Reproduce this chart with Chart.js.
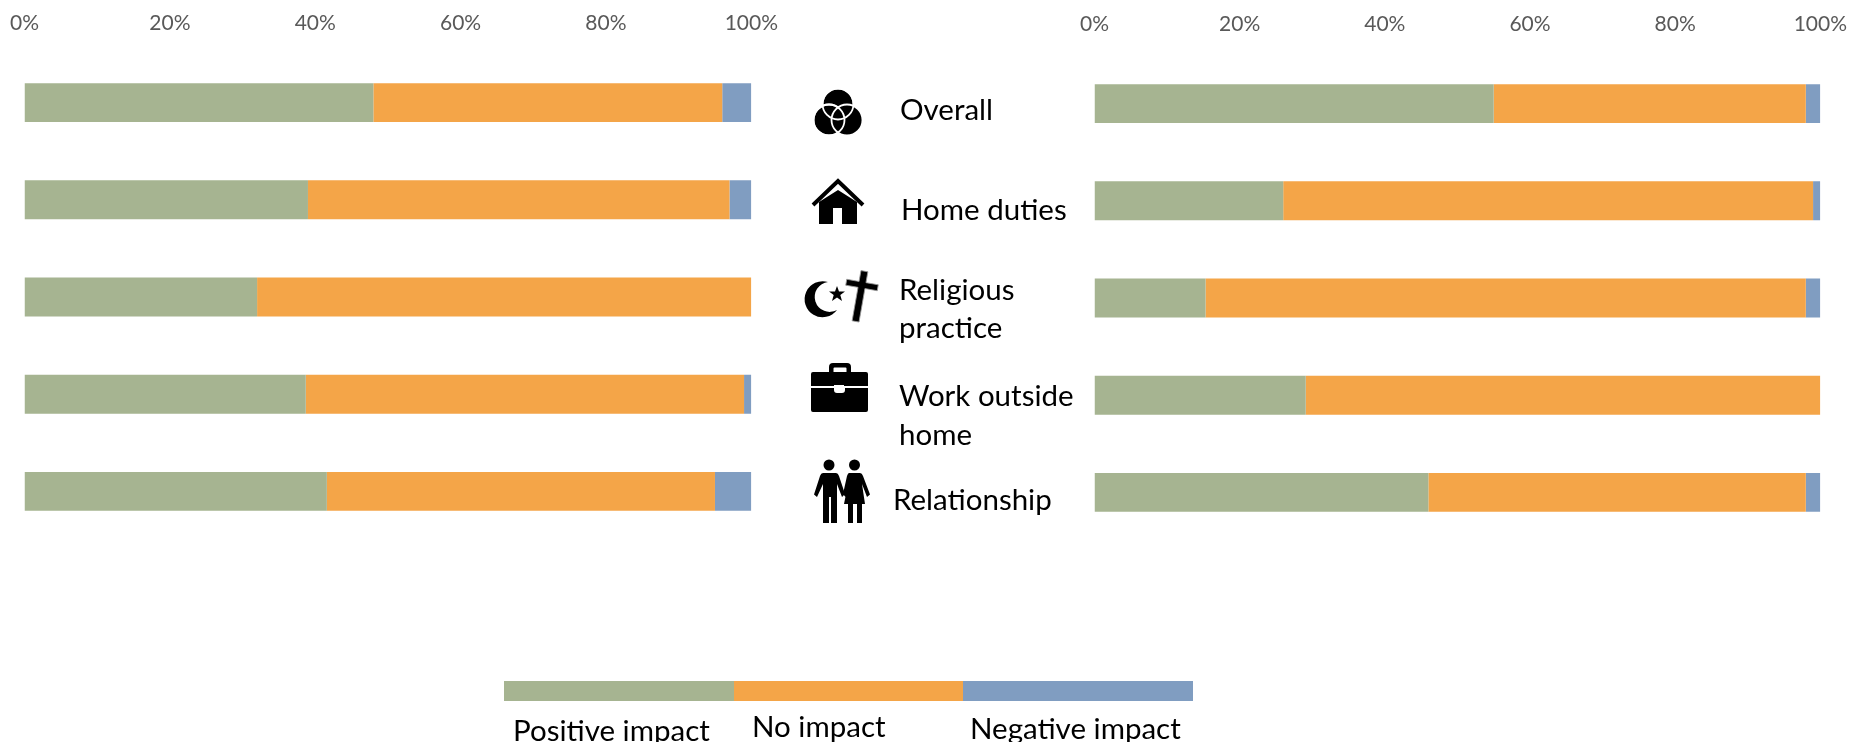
<!DOCTYPE html>
<html>
<head>
<meta charset="utf-8">
<script src="https://cdn.jsdelivr.net/npm/chart.js@4"></script>
<style>
  html, body { margin: 0; padding: 0; background: #fff; }
  body { width: 1850px; height: 742px; position: relative; overflow: hidden; font-family: Lato, sans-serif; }
  .graf { position: absolute; top: 0; width: 804px; height: 540px; }
  .rot { position: absolute; color: #000; font-size: 29.5px; line-height: 40px; white-space: nowrap; }
  .cor { position: absolute; }
  svg { position: absolute; left: 0; top: 0; }
</style>
</head>
<body>
<div class="graf" style="left:-8px"><canvas id="graf1"></canvas></div>
<div class="graf" style="left:1062px;top:1px;width:803px"><canvas id="graf2"></canvas></div>

<svg width="1850" height="742">
  <!-- overall -->
  <g fill="#000" stroke="#fff" stroke-width="1.8">
    <circle cx="838" cy="104" r="15.500"/><circle cx="829" cy="120" r="15.500"/><circle cx="847" cy="120" r="15.500"/>
    <circle cx="838" cy="104" r="15.500" fill="none"/><circle cx="829" cy="120" r="15.500" fill="none"/>
  </g>
  <!-- home -->
  <path d="M813 205L838 181L863 205" fill="none" stroke="#000" stroke-width="4"/>
  <path d="M819 202L838 190L857 202V224H842V208H833V224H819Z" fill="#000"/>
  <!-- religion -->
  <path d="M828 282A18 18 0 1 0 837 310A15 15 0 1 1 828 282Z" fill="#000"/>
  <path d="M837 286l2 5.500h6l-4.700 3.500 1.700 6-5-3.500-5 3.500 1.700-6-4.700-3.500h6z" fill="#000"/>
  <g transform="rotate(10 862 285)" fill="#000" stroke="#999" stroke-width="0.8">
    <path d="M858.500 271h7v11h12.500v6h-12.500v34h-7v-34h-12.500v-6h12.500z"/>
  </g>
  <!-- work -->
  <path d="M829 372v-5a4 4 0 0 1 4-4h14a4 4 0 0 1 4 4v5h-4.500v-3.500a1 1 0 0 0-1-1h-11a1 1 0 0 0-1 1v3.500z" fill="#000"/>
  <path d="M813 372h53a2 2 0 0 1 2 2v12h-24v-1h-10v1h-23v-12a2 2 0 0 1 2-2z" fill="#000"/>
  <path d="M811 388h23v2a3 3 0 0 0 3 3h5a3 3 0 0 0 3-3v-2h23v22a2 2 0 0 1-2 2h-53a2 2 0 0 1-2-2z" fill="#000"/>
  <!-- relationship -->
  <circle cx="829" cy="465" r="5.500" fill="#000"/><circle cx="854.500" cy="465" r="5.500" fill="#000"/>
  <path d="M823 473H836Q838 473 839 476L845 494L842 497L837 484V523H831V497H829V523H823V484L817 497L814 494.500L820 476Q821 473 823 473Z" fill="#000"/>
  <path d="M849 473H860Q862 473 863 476L870 494.500L867 497L862 484L865 504H862V523H857V504H853V523H848V504H844L848 484L845.500 497L843 494L847 476Q848 473 849 473Z" fill="#000"/>
</svg>

<script>
const categorias = ["Overall", "Home duties", "Religious practice", "Work outside home", "Relationship"];
const ticksEixo = ["0%", "20%", "40%", "60%", "80%", "100%"];

// grafico da esquerda
const positivoEsq = [48, 39, 32, 38.7, 41.6];
const semEfeitoEsq = [48, 58, 68, 60.3, 53.4];
const negativoEsq = [4, 3, 0, 1, 5];

// grafico da direita
const positivoDir = [55, 26, 15.3, 29.1, 46];
const semEfeitoDir = [43, 73, 82.7, 70.9, 52];
const negativoDir = [2, 1, 2, 0, 2];

const legendaNomes = ["Positive impact", "No impact", "Negative impact"];
const cores = ["#A6B491", "#F4A548", "#809DC1"];

// rotulos do meio e legenda, so posicao (linhas quebradas como na figura)
const rotulos = [
    ["Overall", 900, 109], ["Home duties", 901, 209], ["Religious", 899, 289], ["practice", 899, 327],
    ["Work outside", 899, 395], ["home", 899, 434], ["Relationship", 893, 499]
];
const legendaX = [513, 752, 970];
const legendaY = [730, 726, 728];

function createBarChart(id, positivo, semEfeito, negativo) {
    new Chart(document.getElementById(id), {
        type: 'bar',
        data: {
            labels: categorias,
            datasets: [
                { label: legendaNomes[0], data: positivo, backgroundColor: cores[0] },
                { label: legendaNomes[1], data: semEfeito, backgroundColor: cores[1] },
                { label: legendaNomes[2], data: negativo, backgroundColor: cores[2] }
            ]
        },
        options: {
            indexAxis: 'y',
            responsive: true,
            maintainAspectRatio: false,
            animation: false,
            layout: { padding: { left: 17, right: 10, top: 0, bottom: 0 } },
            datasets: { bar: { barPercentage: 0.4, categoryPercentage: 1 } },
            plugins: { legend: { display: false }, tooltip: { enabled: false } },
            scales: {
                x: {
                    position: 'top',
                    stacked: true,
                    min: 0,
                    max: 100,
                    afterFit: function (scale) { scale.height = 54; },
                    grid: { display: false, drawTicks: false },
                    border: { display: false },
                    ticks: {
                        stepSize: 20,
                        maxRotation: 0,
                        autoSkip: false,
                        padding: 18,
                        color: '#595959',
                        font: { family: 'Lato', size: 21 },
                        callback: function (v) { return ticksEixo[v / 20]; }
                    }
                },
                y: { stacked: true, display: false }
            }
        }
    });
}

createBarChart('graf1', positivoEsq, semEfeitoEsq, negativoEsq);
createBarChart('graf2', positivoDir, semEfeitoDir, negativoDir);

rotulos.forEach(function (r) {
    var d = document.createElement('div');
    d.className = 'rot';
    d.textContent = r[0];
    d.style.left = r[1] + 'px';
    d.style.top = (r[2] - 20) + 'px';
    document.body.appendChild(d);
});

// legenda em faixa
cores.forEach(function (c, i) {
    var d = document.createElement('div');
    d.className = 'cor';
    d.style.cssText = 'left:' + (504 + i * 229.5) + 'px;width:230px;top:681px;height:20px;background:' + c;
    document.body.appendChild(d);
    var t = document.createElement('div');
    t.className = 'rot';
    t.textContent = legendaNomes[i];
    t.style.left = legendaX[i] + 'px';
    t.style.top = (legendaY[i] - 20) + 'px';
    document.body.appendChild(t);
});
</script>
</body>
</html>
